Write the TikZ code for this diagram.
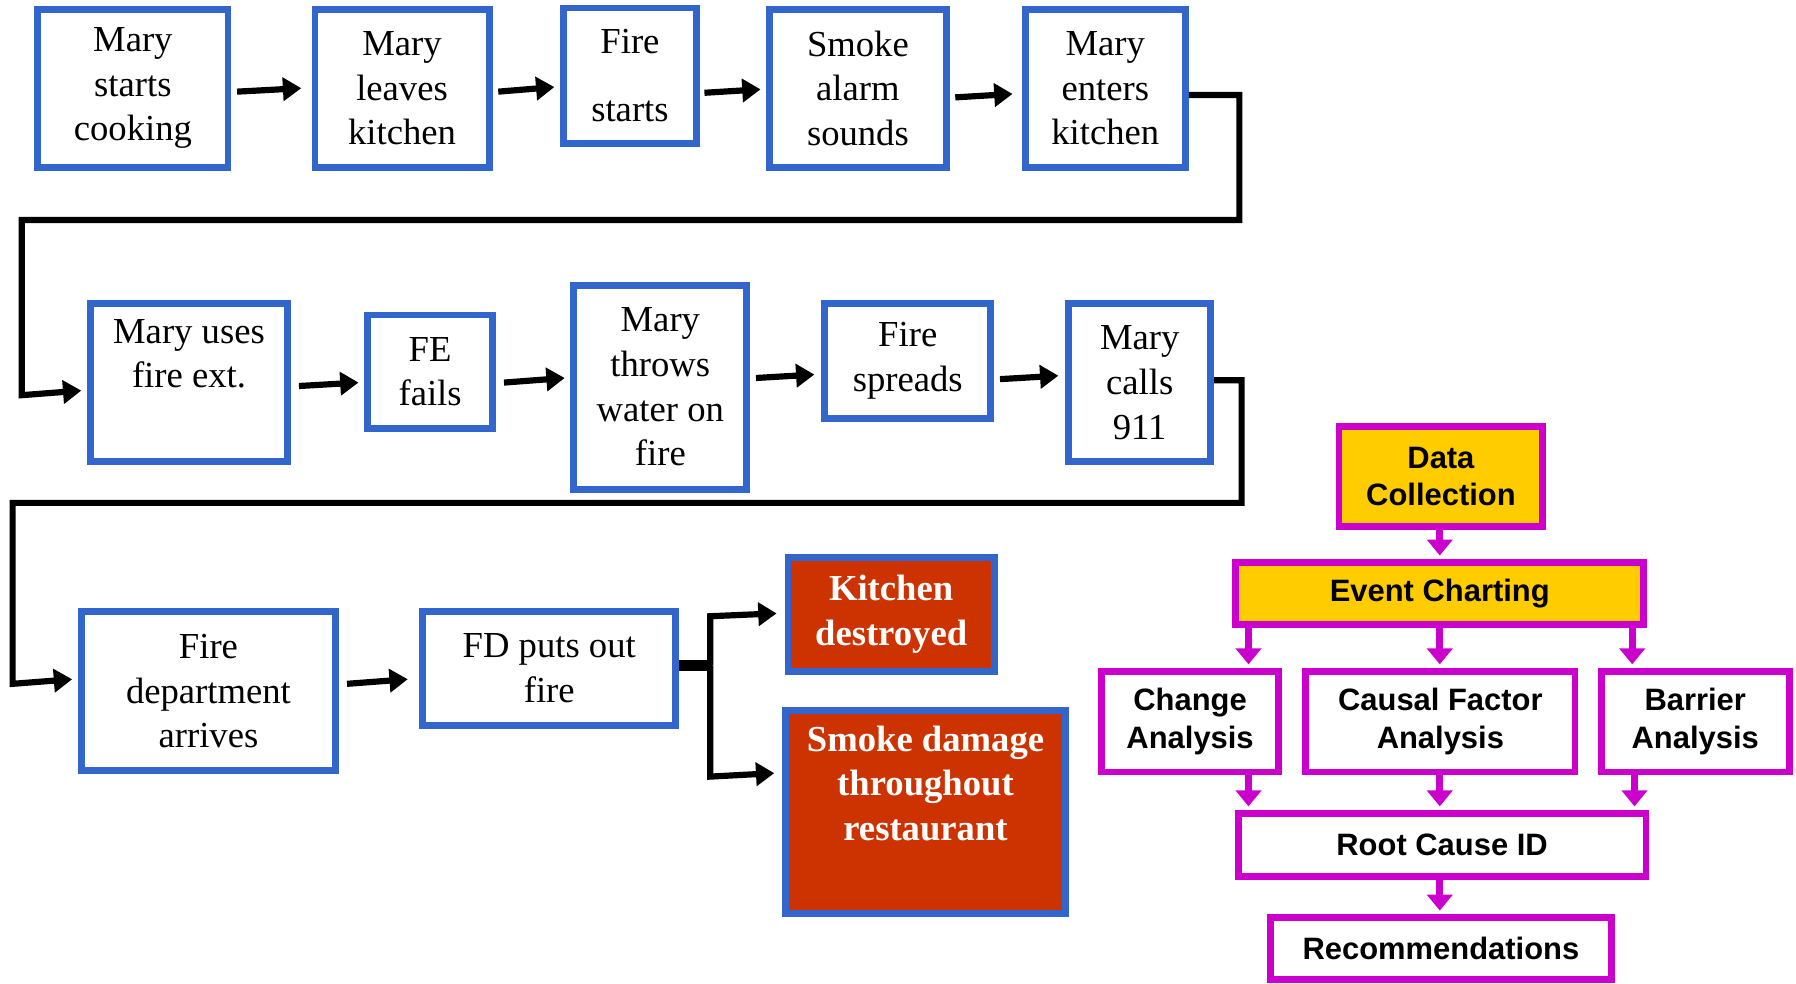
\documentclass[tikz,border=0pt]{standalone}
\usepackage{fontspec}
\setmainfont{Liberation Serif}
\setsansfont{Liberation Sans}
\usetikzlibrary{arrows.meta}
\definecolor{evblue}{HTML}{3366CC}
\definecolor{evred}{HTML}{CC3300}
\definecolor{rcyellow}{HTML}{FFCC00}
\definecolor{rcmag}{HTML}{CC00CC}

\begin{document}
\begin{tikzpicture}[x=0.5pt,y=-0.5pt,
  evt/.style={draw=evblue, line width=3pt, fill=white, inner sep=0pt, align=center,
              font=\fontsize{16}{19.5}\selectfont},
  res/.style={evt, fill=evred, text=white, font=\fontsize{16}{19.5}\selectfont\bfseries},
  rca/.style={draw=rcmag, line width=3pt, fill=white, inner sep=0pt, align=center,
              font=\sffamily\bfseries\fontsize{13.5}{16.5}\selectfont},
  hot/.style={rca, fill=rcyellow},
  flow/.style={line width=2.7pt, black, line join=miter, -{Triangle[length=8pt,width=10pt]}},
  link/.style={line width=4.5pt, black},
  feed/.style={line width=3pt, rcmag, -{Triangle[length=7pt,width=11pt]}, shorten >=1.5pt}
]
\fill[white] (0,0) rectangle (1568,859);
\useasboundingbox (0,0) rectangle (1568,859);

% ---- row 1 of the event chain
\node[evt, minimum width=83pt, minimum height=69pt] (b1) at (116,77) {Mary\\starts\\cooking};
\node[evt, minimum width=76pt, minimum height=69pt] (b2) at (351,77) {Mary\\leaves\\kitchen};
\node[evt, minimum width=58pt, minimum height=59pt] (b3) at (550,66) {Fire\\[10pt]starts};
\node[evt, minimum width=77pt, minimum height=69pt] (b4) at (749,77) {Smoke\\alarm\\sounds};
\node[evt, minimum width=70pt, minimum height=69pt] (b5) at (965,77) {Mary\\enters\\kitchen};

% ---- row 2
\node[evt, minimum width=86pt, minimum height=69pt] (b6) at (165,334) {Mary uses\\fire ext.\\\strut};
\node[evt, minimum width=54.5pt, minimum height=49.5pt] (b7) at (375.5,324.5) {FE\\fails};
\node[evt, minimum width=75.5pt, minimum height=89pt] (b8) at (576.5,338) {Mary\\throws\\water on\\fire};
\node[evt, minimum width=72.5pt, minimum height=50pt] (b9) at (792.5,315) {Fire\\spreads};
\node[evt, minimum width=62pt, minimum height=69pt] (b10) at (995,334) {Mary\\calls\\911};

% ---- row 3 and outcomes
\node[evt, minimum width=111pt, minimum height=69.5pt] (b11) at (182,603.5) {Fire\\department\\arrives};
\node[evt, minimum width=110.5pt, minimum height=49.5pt] (b12) at (479.5,583.5) {FD puts out\\fire};
\node[res, minimum width=90pt, minimum height=49.5pt] (b13) at (778,536.5) {Kitchen\\destroyed};
\node[res, minimum width=122pt, minimum height=88.5pt] (b14) at (808,709) {Smoke damage\\throughout\\restaurant\\\strut};

% ---- connectors of the event chain
\draw[flow] ([shift={(2.5pt,-1.5pt)}]b1.east) -- ([shift={(-4.5pt,0pt)}]b2.west);
\draw[flow] ([shift={(2.5pt,-1.5pt)}]b2.east) -- ([shift={(-2.5pt,-5pt)}]b3.west);
\draw[flow] ([shift={(2pt,-7.5pt)}]b3.east) -- ([shift={(-2.5pt,-0.5pt)}]b4.west);
\draw[flow] ([shift={(2.5pt,-4pt)}]b4.east) -- ([shift={(-4pt,-2.5pt)}]b5.west);

\coordinate (r1) at (1082,192);
\coordinate (l1) at (19,192);
\coordinate (l1b) at (19,345);
\draw[flow] ([yshift=-3pt]b5.east) -| (r1) -- (l1) -- (l1b)
            -- ([shift={(-2.5pt,-3.5pt)}]b6.west);

\draw[flow] ([shift={(3.5pt,-1.5pt)}]b6.east) -- ([shift={(-2.5pt,-4.75pt)}]b7.west);
\draw[flow] ([shift={(3.5pt,-4.75pt)}]b7.east) -- ([shift={(-2.5pt,4pt)}]b8.west);
\draw[flow] ([shift={(2.5pt,4pt)}]b8.east) -- ([shift={(-3pt,-6pt)}]b9.west);
\draw[flow] ([shift={(2.5pt,-8pt)}]b9.east) -- ([shift={(-3pt,3pt)}]b10.west);

\coordinate (r2) at (1084,439);
\coordinate (l2) at (11,439);
\coordinate (l2b) at (11,597);
\draw[flow] ([yshift=1pt]b10.east) -| (r2) -- (l2) -- (l2b)
            -- ([shift={(-2.5pt,5.25pt)}]b11.west);

\draw[flow] ([shift={(3.5pt,3.25pt)}]b11.east) -- ([shift={(-5pt,-4.75pt)}]b12.west);

\coordinate (sp) at (620,581);
\coordinate (spt) at (620,538);
\coordinate (spb) at (620,678);
\draw[link] ([yshift=1.25pt]b12.east) -- ([xshift=1pt]sp);
\draw[flow] (sp) -- (spt) -- ([xshift=-3.5pt,yshift=0.5pt]b13.west);
\draw[flow] (sp) -- (spb) -- ([shift={(-3.5pt,17pt)}]b14.west);

% ---- root cause analysis steps
\node[hot, minimum width=89pt, minimum height=44pt] (dc) at (1258,416) {Data\\Collection};
\node[hot, minimum width=178pt, minimum height=27pt] (ec) at (1257,518) {Event Charting};
\node[rca, minimum width=77pt, minimum height=44pt] (ca) at (1039,630) {Change\\Analysis};
\node[rca, minimum width=117.5pt, minimum height=44pt] (cf) at (1257.5,630) {Causal Factor\\Analysis};
\node[rca, minimum width=82pt, minimum height=44pt] (ba) at (1480,630) {Barrier\\Analysis};
\node[rca, minimum width=178pt, minimum height=27.5pt] (rc) at (1259,737.5) {Root Cause ID};
\node[rca, minimum width=149pt, minimum height=27pt] (rec) at (1258,828) {Recommendations};

\coordinate (ka) at (1090,0);
\coordinate (kb) at (1257,0);
\coordinate (kc) at (1425,0);
\coordinate (kd) at (1427,0);
\draw[feed] (kb |- dc.south) -- (kb |- ec.north);
\draw[feed] (ka |- ec.south) -- (ka |- ca.north);
\draw[feed] (kb |- ec.south) -- (kb |- cf.north);
\draw[feed] (kc |- ec.south) -- (kc |- ba.north);
\draw[feed] (ka |- ca.south) -- (ka |- rc.north);
\draw[feed] (kb |- cf.south) -- (kb |- rc.north);
\draw[feed] (kd |- ba.south) -- (kd |- rc.north);
\draw[feed] (kb |- rc.south) -- (kb |- rec.north);
\end{tikzpicture}
\end{document}
